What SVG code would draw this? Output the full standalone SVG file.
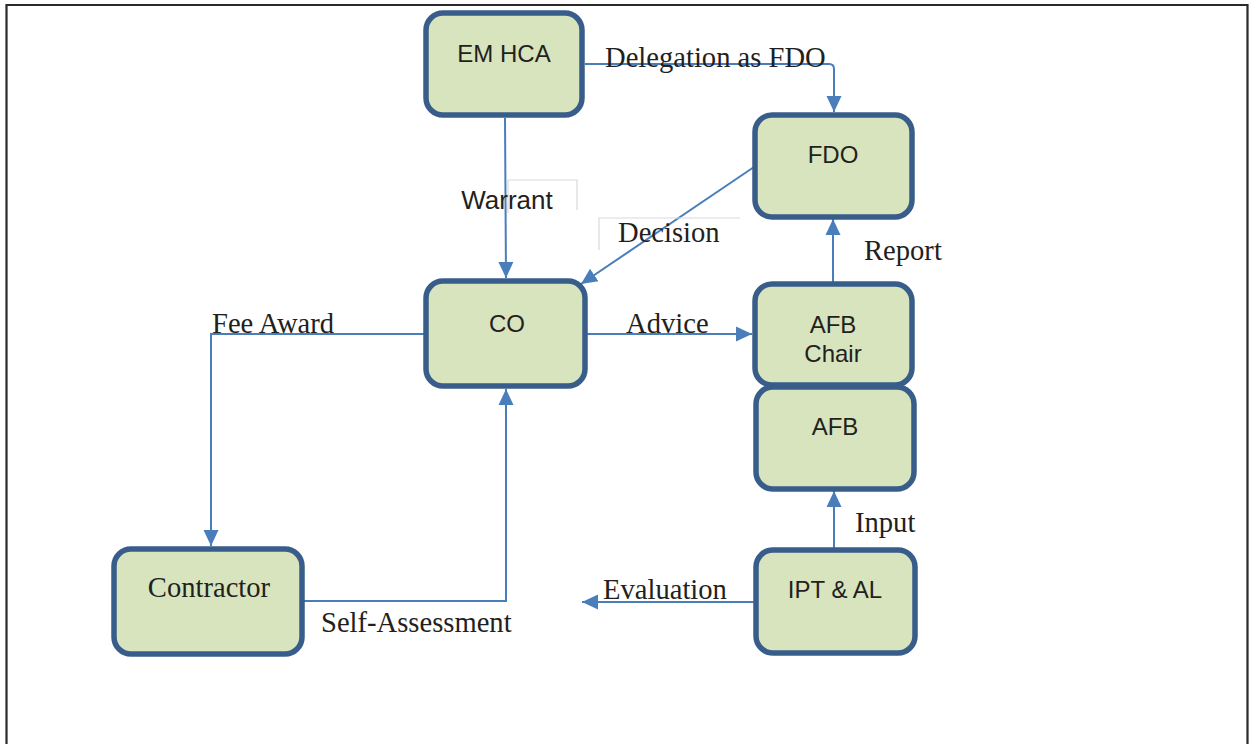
<svg xmlns="http://www.w3.org/2000/svg" width="1251" height="744" viewBox="0 0 1251 744">
<style>
.node rect{fill:#d7e4bd;stroke:#385d8a;stroke-width:5.5}
.nl{font-family:"Liberation Sans",Arial,sans-serif;font-size:24px;fill:#231f20;text-anchor:middle}
.tl{font-family:"Liberation Serif","Times New Roman",serif;font-size:28.6px;fill:#231f20}
.c{fill:none;stroke:#4a7ebb;stroke-width:2}
.ghost{fill:none;stroke:#d9d9d9;stroke-width:1.2}
</style>
<defs>
<marker id="ah" markerUnits="userSpaceOnUse" markerWidth="17" markerHeight="17" viewBox="0 0 17 17" refX="16" refY="8.5" orient="auto">
<path d="M0,1 L16,8.5 L0,16 Z" fill="#4a7ebb"/>
</marker>
</defs>
<rect x="0" y="0" width="1251" height="744" fill="#fff"/>
<path d="M6.5,744 V5 H1247.5 V744" fill="none" stroke="#2a2a2a" stroke-width="2.2"/>

<g id="connectors">
<path class="c" d="M585,64 H829 Q834,64 834,69 V112" marker-end="url(#ah)"/>
<path class="c" d="M505,118 L506,278" marker-end="url(#ah)"/>
<path class="c" d="M754,167 L581,284" marker-end="url(#ah)"/>
<path class="c" d="M833,282 V219" marker-end="url(#ah)"/>
<path class="c" d="M587,334 H752" marker-end="url(#ah)"/>
<path class="c" d="M424,334 H211 V546" marker-end="url(#ah)"/>
<path class="c" d="M304,601 H506 V389" marker-end="url(#ah)"/>
<path class="c" d="M834,548 V491" marker-end="url(#ah)"/>
<path class="c" d="M754,602 H582" marker-end="url(#ah)"/>
</g>

<g id="labels">
<path class="ghost" d="M508,213 V180 H577 V210"/>
<path class="ghost" d="M599,250 V218 H740"/>
<text class="tl" x="605" y="67">Delegation as FDO</text>
<text class="nl" x="507" y="209" style="font-size:26px">Warrant</text>
<text class="tl" x="618" y="242">Decision</text>
<text class="tl" x="864" y="260">Report</text>
<text class="tl" x="626" y="333">Advice</text>
<text class="tl" x="212" y="333">Fee Award</text>
<text class="tl" x="321" y="632">Self-Assessment</text>
<text class="tl" x="855" y="532">Input</text>
<text class="tl" x="603" y="599">Evaluation</text>
</g>

<g id="node-emhca" class="node">
<rect x="426" y="13" width="156" height="102" rx="17"/>
<text class="nl" x="504" y="62">EM HCA</text>
</g>
<g id="node-fdo" class="node">
<rect x="755" y="115" width="157" height="102" rx="17"/>
<text class="nl" x="833" y="163">FDO</text>
</g>
<g id="node-co" class="node">
<rect x="426" y="281" width="159" height="105" rx="17"/>
<text class="nl" x="507" y="332">CO</text>
</g>
<g id="node-afbchair" class="node">
<rect x="755" y="284" width="157" height="101" rx="17"/>
<text class="nl" x="833" y="333">AFB</text>
<text class="nl" x="833" y="362">Chair</text>
</g>
<g id="node-afb" class="node">
<rect x="756" y="387" width="158" height="102" rx="17"/>
<text class="nl" x="835" y="435">AFB</text>
</g>
<g id="node-contractor" class="node">
<rect x="114" y="549" width="188" height="105" rx="17"/>
<text class="tl" x="209" y="597" text-anchor="middle">Contractor</text>
</g>
<g id="node-iptal" class="node">
<rect x="756" y="550" width="159" height="103" rx="17"/>
<text class="nl" x="835" y="598">IPT &amp; AL</text>
</g>
</svg>
